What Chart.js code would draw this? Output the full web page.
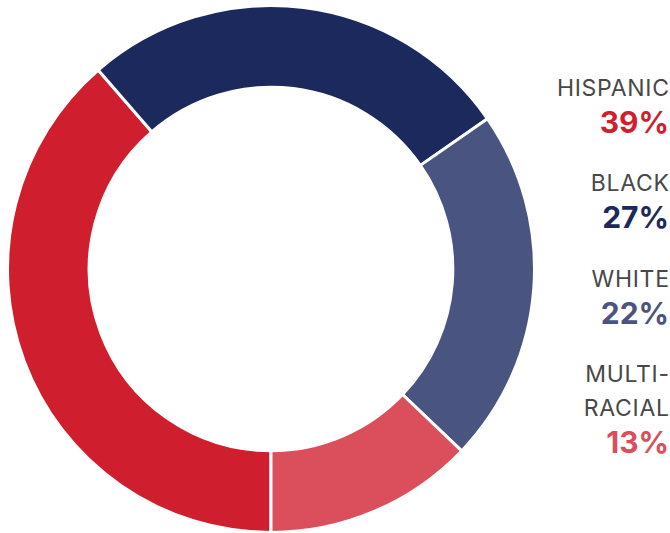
<!DOCTYPE html>
<html>
<head>
<meta charset="utf-8">
<script src="https://cdn.jsdelivr.net/npm/chart.js@4"></script>
<style>
  html, body { margin: 0; padding: 0; background: #fff; }
  body { width: 670px; height: 533px; position: relative; overflow: hidden; font-family: "Inter", "Noto Sans", sans-serif; }
  #wrap { position: absolute; left: 6px; top: 4px; width: 530px; height: 530px; }
  .lbl { position: absolute; right: 1px; line-height: 1; white-space: nowrap; text-align: right; }
  .name { font-size: 23px; color: #484848; font-weight: 400; letter-spacing: 0.7px; margin-right: -0.7px; }
  .pct { font-size: 30px; font-weight: 700; }
</style>
</head>
<body>
<div id="wrap"><canvas id="donut"></canvas></div>
<div id="legend"></div>
<script>
const groups = [['HISPANIC'], ['BLACK'], ['WHITE'], ['MULTI-', 'RACIAL']];
const shares = [39, 27, 22, 13];
const colors = ['#cf1f2f', '#1c295c', '#4a5480', '#da4f5b'];

// legend on the right, one line per div, placed by baseline
const legend = document.getElementById('legend');
function addLine(text, cls, baseline, size, color) {
  const d = document.createElement('div');
  d.className = 'lbl ' + cls;
  d.textContent = text;
  d.style.top = (baseline - size * 0.8635) + 'px';
  if (color) d.style.color = color;
  legend.appendChild(d);
}
groups.forEach((lines, i) => {
  let y = 97 + i * 95.3;
  lines.forEach((t, j) => {
    if (j > 0) y += 34;
    addLine(t, 'name', y, 23);
  });
  addLine(shares[i] + '%', 'pct', y + 36, 30, colors[i]);
});

new Chart(document.getElementById('donut'), {
  type: 'doughnut',
  data: {
    labels: groups.map(g => g.join('')),
    datasets: [{
      data: shares,
      backgroundColor: colors,
      borderColor: '#ffffff',
      borderWidth: 3,
      hoverOffset: 0
    }]
  },
  options: {
    responsive: true,
    maintainAspectRatio: false,
    animation: false,
    rotation: 180,
    cutout: '69%',
    layout: { padding: 0 },
    plugins: {
      legend: { display: false },
      tooltip: { enabled: false }
    }
  }
});
</script>
</body>
</html>
